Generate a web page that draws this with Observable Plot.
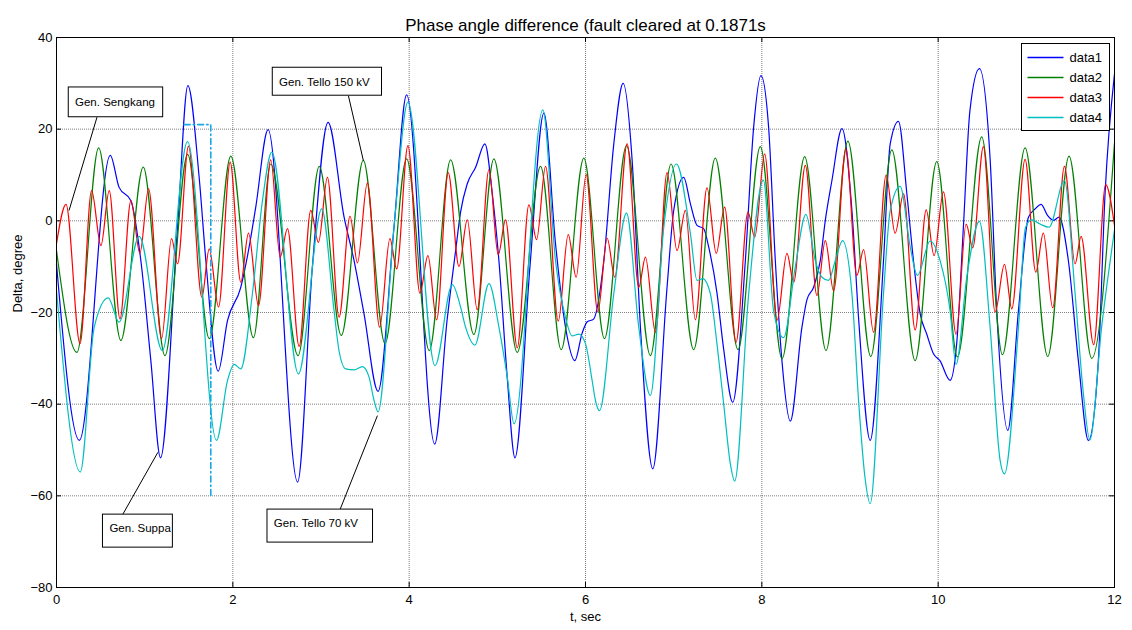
<!DOCTYPE html>
<html><head><meta charset="utf-8">
<script src="https://cdn.jsdelivr.net/npm/d3@7"></script>
<script src="https://cdn.jsdelivr.net/npm/@observablehq/plot@0.6"></script>
<style>
body{margin:0;background:#fff;}
svg{font-family:"Liberation Sans",Arial,Helvetica,sans-serif;}
</style>
</head><body><div id="chart"></div>
<script>
const titleText = "Phase angle difference (fault cleared at 0.1871s";
const xLabel = "t, sec";
const yLabel = "Delta, degree";
const xTicks = [0, 2, 4, 6, 8, 10, 12];
const yTicks = [-80, -60, -40, -20, 0, 20, 40];
const seriesNames = ["data1", "data2", "data3", "data4"];
const seriesColors = ["#0000ff", "#008000", "#ff0000", "#00bfbf"];

// [t (s), delta (deg)] (turning points and shape points)
const data1 = [[0,-9.4],[0.259,-47.9],[0.61,14.3],[0.71,7.3],[0.844,4.4],[0.957,-8.7],[1.07,-30.5],[1.18,-51.7],[1.373,-1.4],[1.49,29.5],[1.618,9.5],[1.694,-8.7],[1.834,-32.8],[1.94,-21.7],[2.09,-14.5],[2.185,-5.7],[2.26,3],[2.4,19.9],[2.735,-57],[2.902,-10.1],[3.08,21.5],[3.262,0.8],[3.375,-8.7],[3.488,-20.3],[3.647,-37.2],[3.828,-1.4],[3.971,27.5],[4.29,-48.7],[4.43,-21.7],[4.527,-6.5],[4.584,2],[4.659,8.1],[4.754,11.7],[4.859,16.8],[4.943,5.9],[5.018,-8.7],[5.112,-34.1],[5.2,-51.7],[5.37,-10],[5.528,23.5],[5.66,-5],[5.773,-23.2],[5.879,-30.5],[5.962,-24.5],[6.02,-22],[6.09,-21.5],[6.208,-8.7],[6.321,16.8],[6.427,30],[6.529,13.2],[6.623,-23.2],[6.763,-54.1],[6.925,-14.5],[7.0,2.2],[7.114,9.5],[7.19,3.7],[7.265,-1],[7.34,-1.7],[7.397,-5.7],[7.491,-15.7],[7.567,-28],[7.67,-39.6],[7.813,-8.7],[7.907,20.4],[7.99,31.7],[8.077,20.4],[8.153,-8.7],[8.228,-30.5],[8.323,-43.7],[8.455,-23.2],[8.512,-17.2],[8.587,-14.5],[8.663,-8.7],[8.72,0.1],[8.795,8.8],[8.909,20.1],[9.022,2.2],[9.1,-22],[9.229,-47.9],[9.38,-8.7],[9.456,16.8],[9.55,21.7],[9.645,5.9],[9.72,-8.7],[9.796,-20.3],[9.87,-24.7],[9.947,-29],[10.02,-30.5],[10.135,-34.8],[10.21,-26.8],[10.286,-1.4],[10.36,24],[10.468,33.2],[10.59,13.2],[10.664,-19.5],[10.79,-45.7],[10.911,-19.5],[11.024,0.8],[11.1,2.6],[11.167,3.6],[11.24,1.2],[11.31,0.1],[11.37,0.8],[11.477,-8.7],[11.59,-30.5],[11.704,-47.9],[11.817,-30.5],[11.893,5.9],[12,32]];
const data2 = [[0,-6.5],[0.232,-28.7],[0.478,15.9],[0.73,-26.1],[0.984,11.7],[1.23,-29.4],[1.487,14.5],[1.733,-25.7],[1.977,14.1],[2.234,-25.5],[2.43,12.4],[2.74,-29.4],[2.98,11.9],[3.23,-25],[3.48,13.2],[3.726,-26.8],[3.971,13.5],[4.228,-28.3],[4.47,13.3],[4.734,-24.8],[4.961,13.5],[5.226,-28.7],[5.49,11.9],[5.724,-28.1],[5.981,13.7],[6.215,-25.7],[6.465,16.4],[6.736,-29.4],[6.97,12.4],[7.227,-28.1],[7.472,13.7],[7.73,-28.1],[7.983,16.2],[8.229,-30.1],[8.486,14],[8.728,-28.3],[8.976,17.4],[9.236,-29.6],[9.474,15.5],[9.739,-30.5],[9.984,12.9],[10.218,-29.7],[10.494,18.3],[10.729,-29.2],[10.986,15.9],[11.243,-29.6],[11.484,14.1],[11.742,-30],[12,17]];
const data3 = [[0,-5],[0.108,3.6],[0.267,-26.8],[0.398,6.6],[0.504,-5.4],[0.598,6.6],[0.72,-21.4],[0.844,4.4],[0.946,-7.1],[1.044,7],[1.192,-25.7],[1.305,-3.9],[1.373,-9.4],[1.497,16.3],[1.649,-16.7],[1.732,-6.1],[1.838,-18.8],[1.97,12.8],[2.09,-13.4],[2.178,-2.7],[2.291,-18.5],[2.43,13.3],[2.537,-7.9],[2.62,-1.7],[2.752,-27.4],[2.884,2.3],[2.971,-4.7],[3.073,9.5],[3.205,-21],[3.33,1],[3.413,-9.2],[3.526,8.3],[3.665,-23.2],[3.782,-3.9],[3.858,-10.5],[3.986,16.4],[4.122,-15.8],[4.213,-7.6],[4.311,-21.6],[4.443,10.5],[4.565,-10],[4.659,0.2],[4.772,-19.4],[4.905,11.2],[5.01,-7.4],[5.093,0.2],[5.226,-27.7],[5.358,3.5],[5.445,-4.1],[5.547,11.9],[5.691,-21.9],[5.804,-3],[5.894,-12.3],[6.007,10.1],[6.14,-19.9],[6.246,-3.8],[6.332,-12.3],[6.472,16.8],[6.604,-14.5],[6.68,-7.9],[6.793,-24.3],[6.925,10.5],[7.038,-6.5],[7.133,2.3],[7.246,-21.6],[7.378,7.2],[7.483,-7.1],[7.578,3],[7.707,-26.5],[7.843,1.9],[7.919,-3.6],[8.032,14.6],[8.172,-21.7],[8.285,-7.1],[8.361,-13.4],[8.493,12.1],[8.625,-16.3],[8.72,-4.3],[8.814,-15.3],[8.953,15.7],[9.078,-11.9],[9.154,-6.3],[9.267,-24.3],[9.41,10],[9.512,-2.7],[9.607,5.9],[9.739,-23.8],[9.864,2.4],[9.954,-7.6],[10.06,6.3],[10.203,-24.7],[10.317,-0.7],[10.392,-5.9],[10.513,16.2],[10.646,-19.9],[10.752,-9.5],[10.835,-19.2],[10.986,13.4],[11.107,-11.2],[11.193,-2.7],[11.299,-19],[11.432,11.9],[11.553,-9.4],[11.621,-3.4],[11.764,-27],[11.9,7.9],[12,-1]];
const data4 = [[0,-15.2],[0.27,-54.8],[0.428,-23.2],[0.587,-16.8],[0.71,-22.1],[0.938,-3.4],[1.2,-28.3],[1.486,17.3],[1.815,-47.9],[1.94,-34.8],[2.015,-31.3],[2.09,-32.3],[2.222,-15.9],[2.336,4.4],[2.442,15],[2.744,-33.4],[3.008,2.6],[3.148,-19.6],[3.205,-28.4],[3.28,-32.3],[3.375,-32.5],[3.47,-31.8],[3.545,-34.1],[3.602,-39.2],[3.647,-41.7],[3.828,-1.4],[3.986,25.9],[4.293,-31.6],[4.489,-13.9],[4.583,-18.8],[4.64,-23.2],[4.746,-27.1],[4.905,-13.7],[5.018,-23.2],[5.112,-34],[5.19,-44.3],[5.516,24.2],[5.66,-8.7],[5.773,-21.1],[5.849,-25.1],[5.924,-24.7],[6.0,-26.8],[6.075,-34.8],[6.113,-39.2],[6.159,-41.4],[6.321,-15.9],[6.465,1.7],[6.604,-23.2],[6.736,-38.1],[6.888,-1.4],[7.031,12.4],[7.19,-2.8],[7.265,-13],[7.33,-12.6],[7.416,-15.9],[7.491,-26.8],[7.567,-39.9],[7.642,-52.9],[7.692,-56.8],[7.851,-15.9],[8.017,8.9],[8.134,-19.7],[8.247,-25.5],[8.379,-10.1],[8.5,1.4],[8.606,-8.7],[8.682,-12.3],[8.757,-13],[8.833,-8.7],[8.915,-4.3],[9.022,-15.9],[9.1,-40],[9.17,-56],[9.229,-61.7],[9.38,-15.9],[9.456,2.2],[9.569,7.5],[9.683,-5.7],[9.765,-11.9],[9.909,-4.4],[10.022,-8.7],[10.135,-19.6],[10.203,-31.3],[10.325,-12.2],[10.468,-0.1],[10.589,-23.2],[10.702,-52.2],[10.752,-55.2],[10.911,-23.2],[10.99,-1.5],[11.061,0.2],[11.156,-0.7],[11.258,-1.4],[11.432,8.8],[11.553,-15.9],[11.647,-37.7],[11.72,-47.8],[11.854,-23.2],[12,-2]];

// fault-clearing marker (dash-dot), [t, deg]
const faultMarker = [[1.448,21],[1.75,21],[1.75,-60]];

// annotation boxes: label, text anchor point, box corners, leader line from -> to (data units)
const annLabels = ["Gen. Sengkang", "Gen. Tello 150 kV", "Gen. Suppa", "Gen. Tello 70 kV"];
const annTextPos = [[0.21,25.9],[2.525,30.2],[0.6,-67.1],[2.465,-66]];
const annBoxes = [[0.139,1.21,22.6,29.1],[2.453,3.692,27.3,33.4],[0.527,1.32,-71.3,-64.1],[2.393,3.59,-70.2,-63]];
const annLeaders = [[0.459,22.6,0.142,2.25],[3.311,27.3,3.481,13.1],[0.75,-64.1,1.15,-50.5],[3.216,-63,3.64,-42.5]];

const series = [data1, data2, data3, data4];
const rows = series.flatMap((s, i) => s.map(([t, v]) => ({t, v, name: seriesNames[i]})));
const fault = faultMarker.map(([t, v]) => ({t, v}));
const anns = annLabels.map((label, i) => ({
  label, tx: annTextPos[i][0], ty: annTextPos[i][1],
  x1: annBoxes[i][0], x2: annBoxes[i][1], y1: annBoxes[i][2], y2: annBoxes[i][3],
  lx1: annLeaders[i][0], ly1: annLeaders[i][1], lx2: annLeaders[i][2], ly2: annLeaders[i][3]
}));

const W = 1132, H = 630, mT = 37, mB = 43, mL = 56, mR = 18;
const innerH = H - mT - mB, innerW = W - mL - mR;
const tick = 5;

const plot = Plot.plot({
  width: W, height: H,
  marginTop: mT, marginBottom: mB, marginLeft: mL, marginRight: mR,
  style: {fontSize: "13px", fontFamily: "'Liberation Sans', Arial, sans-serif", background: "#fff", color: "#000"},
  x: {domain: [0, 12], label: null},
  y: {domain: [-80, 40], label: null},
  color: {domain: seriesNames, range: seriesColors},
  marks: [
    Plot.gridX(xTicks, {stroke: "#000", strokeOpacity: 0.5, strokeDasharray: "1,1"}),
    Plot.gridY(yTicks, {stroke: "#000", strokeOpacity: 0.5, strokeDasharray: "1,1"}),
    Plot.tickX(xTicks, {x: d => d, stroke: "#000", insetTop: innerH - tick}),
    Plot.tickX(xTicks, {x: d => d, stroke: "#000", insetBottom: innerH - tick}),
    Plot.tickY(yTicks, {y: d => d, stroke: "#000", insetRight: innerW - tick}),
    Plot.tickY(yTicks, {y: d => d, stroke: "#000", insetLeft: innerW - tick}),
    Plot.axisX(xTicks, {tickSize: 0, tickPadding: 7, fontSize: 13}),
    Plot.axisY(yTicks, {tickSize: 0, tickPadding: 4, fontSize: 13}),
    Plot.line(rows, {x: "t", y: "v", z: "name", stroke: "name", strokeWidth: 1.2, curve: "monotone-x"}),
    Plot.line(fault, {x: "t", y: "v", stroke: "#1aa8e6", strokeWidth: 1.6, strokeDasharray: "6,3,1.5,3"}),
    Plot.link(anns, {x1: "lx1", y1: "ly1", x2: "lx2", y2: "ly2", stroke: "#000", strokeWidth: 1}),
    Plot.rect(anns, {x1: "x1", x2: "x2", y1: "y1", y2: "y2", fill: "#fff", stroke: "#000", strokeWidth: 1}),
    Plot.text(anns, {x: "tx", y: "ty", text: "label", textAnchor: "start", fontSize: 11.5, fill: "#000"}),
    Plot.frame({stroke: "#000", strokeWidth: 1}),
    Plot.text([titleText], {text: d => d, frameAnchor: "top", dy: -19, fontSize: 17, fill: "#000"}),
    Plot.text([xLabel], {text: d => d, frameAnchor: "bottom", dy: 33, fontSize: 13, fill: "#000"}),
    Plot.text([yLabel], {text: d => d, frameAnchor: "left", dx: -39, rotate: -90, fontSize: 13, fill: "#000"})
  ]
});

// legend (top-right, MATLAB style)
const svg = d3.select(plot);
const lg = svg.append("g").attr("transform", "translate(1021.5,43.5)");
lg.append("rect").attr("width", 88).attr("height", 87).style("fill", "#fff").style("stroke", "#000");
seriesNames.forEach((n, i) => {
  const y = 14 + i * 20;
  lg.append("path").attr("d", `M6,${y}H42`)
    .style("stroke", seriesColors[i]).style("stroke-width", "1.5px").style("fill", "none");
  lg.append("text").attr("x", 48).attr("y", y + 4.5).attr("text-anchor", "start")
    .style("font-size", "13px").style("fill", "#000").text(n);
});

document.getElementById("chart").appendChild(plot);
</script>
</body></html>
